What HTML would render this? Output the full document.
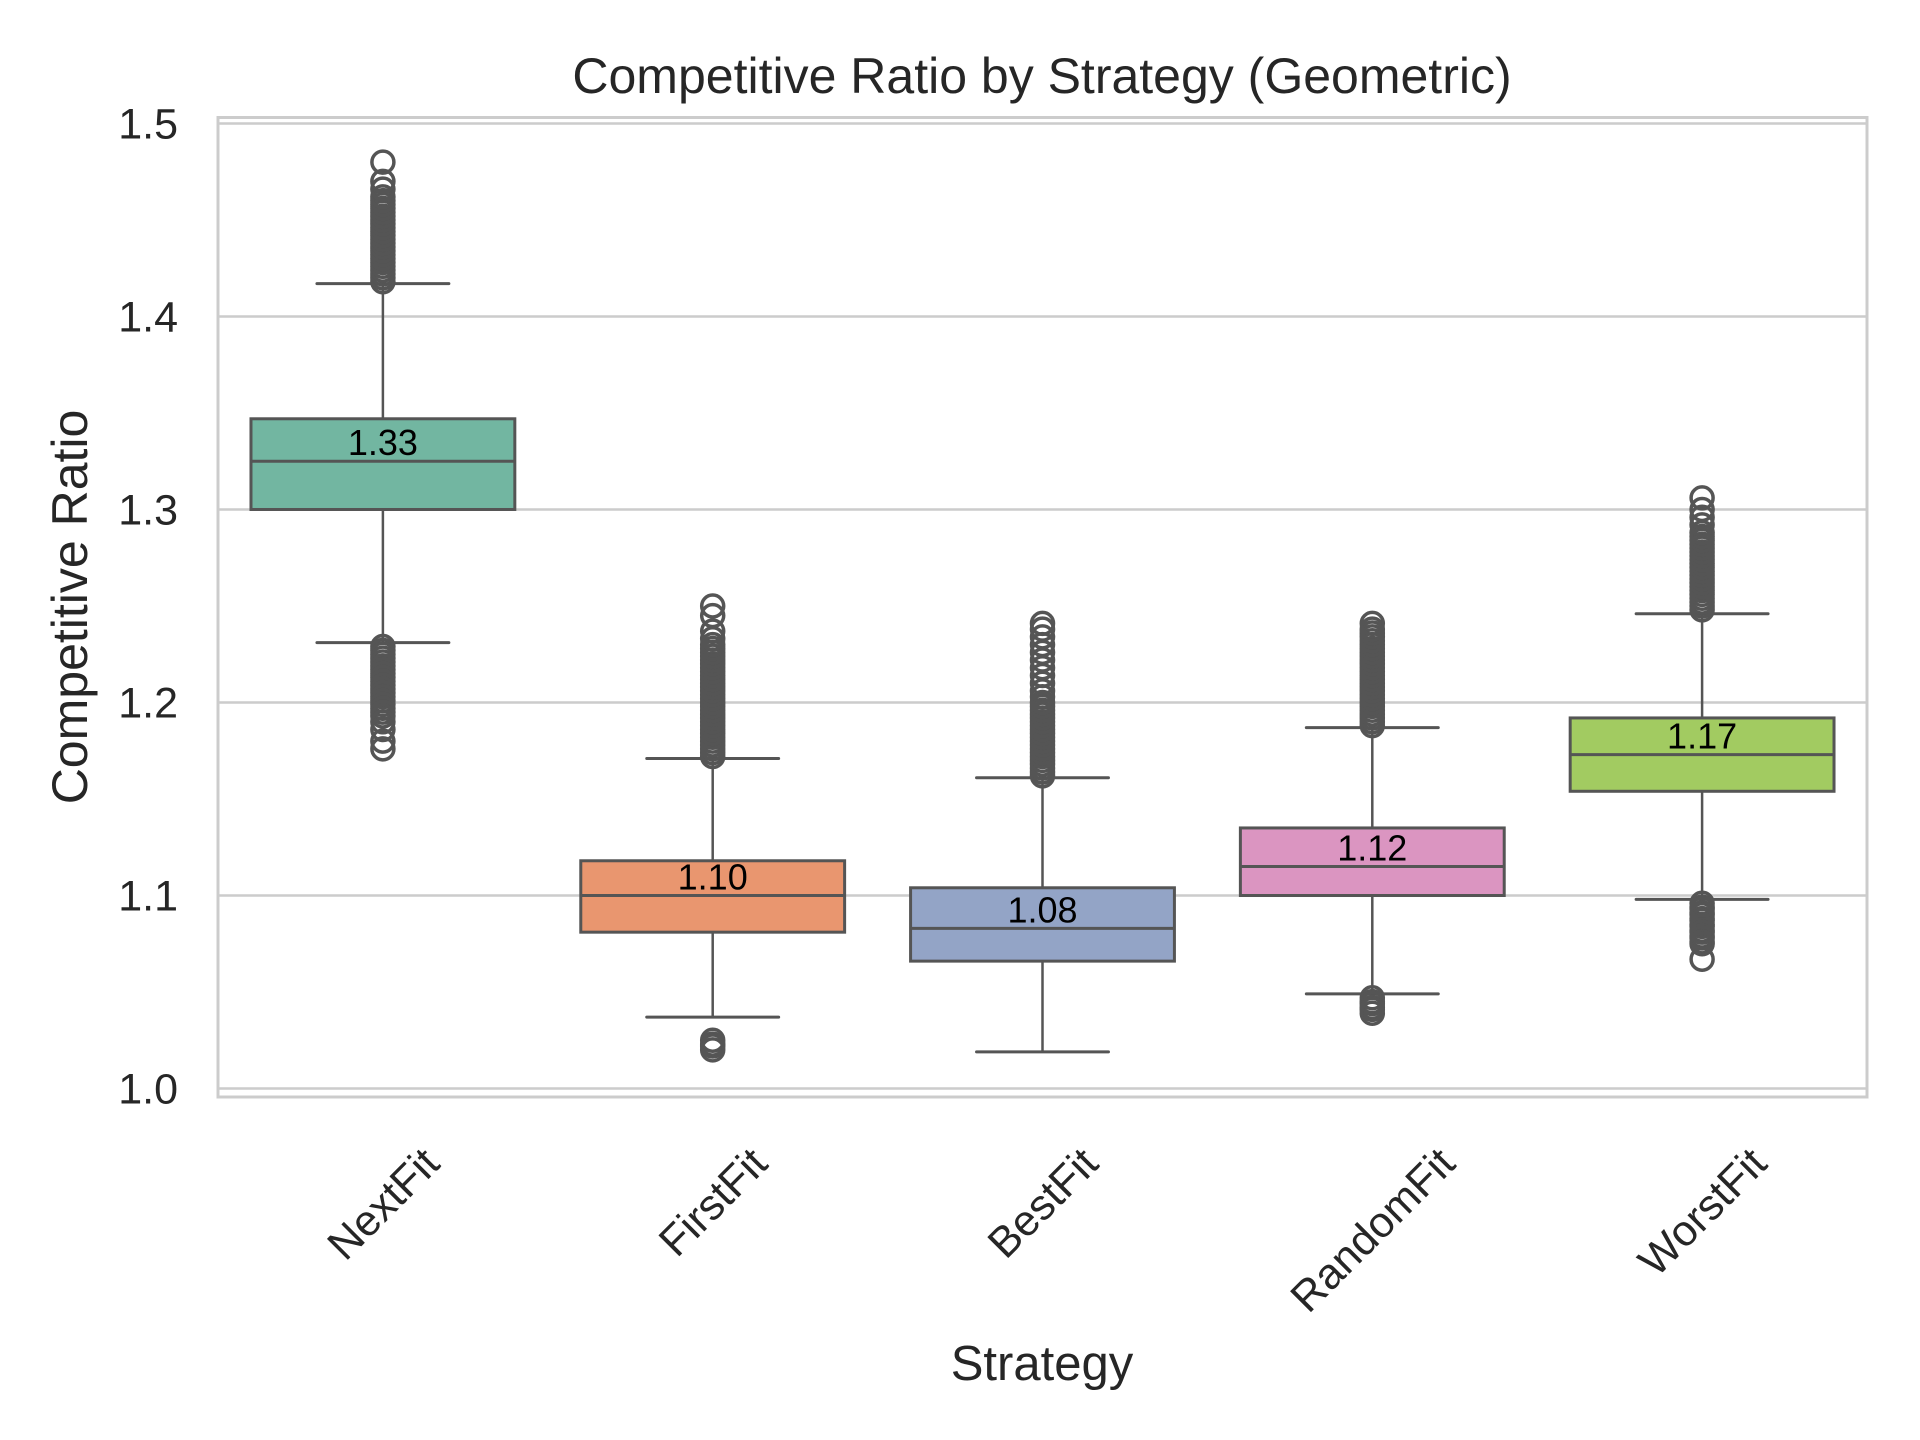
<!DOCTYPE html>
<html><head><meta charset="utf-8"><style>
html,body{margin:0;padding:0;background:#fff;}
svg{display:block;font-family:"Liberation Sans",Arial,sans-serif;}
</style></head><body>
<svg id="chart" width="1920" height="1440" viewBox="0 0 1920 1440" xmlns="http://www.w3.org/2000/svg">
<rect width="1920" height="1440" fill="#fff"/>
<text x="1042" y="93" text-anchor="middle" font-size="50" fill="#262626">Competitive Ratio by Strategy (Geometric)</text>
<g id="grid"></g><g id="boxes"></g><g id="labels"></g>
<rect x="218" y="117.5" width="1649" height="979.5" fill="none" stroke="#cccccc" stroke-width="3"/>
<text transform="translate(87,607) rotate(-90)" text-anchor="middle" font-size="50" fill="#262626">Competitive Ratio</text>
<text x="1042" y="1380" text-anchor="middle" font-size="49" fill="#262626">Strategy</text>
</svg>
<script>
const categories=["NextFit","FirstFit","BestFit","RandomFit","WorstFit"];
const q1=[1.300,1.081,1.066,1.100,1.154];
const q3=[1.347,1.118,1.104,1.135,1.192];
const medians=[1.325,1.100,1.083,1.115,1.173];
const whiskLo=[1.231,1.037,1.019,1.049,1.098];
const whiskHi=[1.417,1.171,1.161,1.187,1.246];
const medianLabels=["1.33","1.10","1.08","1.12","1.17"];
const outliersHigh=[
[1.418,1.42,1.422,1.424,1.426,1.428,1.43,1.432,1.434,1.436,1.438,1.44,1.442,1.444,1.446,1.448,1.45,1.452,1.454,1.456,1.458,1.46,1.462,1.466,1.47,1.48],
[1.172,1.174,1.176,1.178,1.18,1.182,1.184,1.186,1.188,1.19,1.192,1.194,1.196,1.198,1.2,1.202,1.204,1.206,1.208,1.21,1.212,1.214,1.216,1.218,1.22,1.222,1.224,1.226,1.228,1.23,1.233,1.237,1.245,1.25],
[1.162,1.164,1.166,1.168,1.17,1.172,1.174,1.176,1.178,1.18,1.182,1.184,1.186,1.188,1.19,1.192,1.194,1.196,1.198,1.2,1.203,1.206,1.21,1.214,1.218,1.222,1.226,1.23,1.234,1.238,1.241],
[1.188,1.19,1.192,1.194,1.196,1.198,1.2,1.202,1.204,1.206,1.208,1.21,1.212,1.214,1.216,1.218,1.22,1.222,1.224,1.226,1.228,1.23,1.232,1.234,1.236,1.238,1.241],
[1.248,1.25,1.252,1.254,1.256,1.258,1.26,1.262,1.264,1.266,1.268,1.27,1.272,1.274,1.276,1.278,1.28,1.282,1.284,1.286,1.288,1.292,1.296,1.3,1.306]];
const outliersLow=[
[1.229,1.227,1.225,1.223,1.221,1.219,1.217,1.215,1.213,1.211,1.209,1.207,1.205,1.203,1.201,1.199,1.197,1.195,1.193,1.19,1.186,1.18,1.176],
[1.025,1.023,1.022,1.02],
[],
[1.047,1.045,1.044,1.042,1.041,1.039],
[1.096,1.094,1.093,1.091,1.09,1.088,1.087,1.085,1.084,1.082,1.081,1.079,1.078,1.076,1.075,1.067]];
const yTicks=[1.0,1.1,1.2,1.3,1.4,1.5];
const yTickLabels=["1.0","1.1","1.2","1.3","1.4","1.5"];

const NS="http://www.w3.org/2000/svg";
const X0=218,X1=1867,Y0=117.5,Y1=1097,yMin=0.9956,yMax=1.5031;
const y=v=>Y1-(v-yMin)/(yMax-yMin)*(Y1-Y0);
const band=(X1-X0)/categories.length;
const x=i=>X0+band*(i+0.5);
const colors=["#72b6a1","#e9966f","#93a4c6","#db95c1","#a2cb61"];
function mk(tag,attrs,parent){const e=document.createElementNS(NS,tag);for(const k in attrs)e.setAttribute(k,attrs[k]);parent.appendChild(e);return e;}
const grid=document.getElementById('grid'),boxes=document.getElementById('boxes'),labels=document.getElementById('labels');
yTicks.forEach((t,i)=>{
  const l=mk('line',{x1:X0,x2:X1,y1:y(t),y2:y(t),stroke:'#cccccc','stroke-width':2.5},grid);
  
  
  const tx=mk('text',{x:178,y:y(t)+15,'text-anchor':'end','font-size':43,fill:'#262626'},labels);
  tx.textContent=yTickLabels[i];
  
  
});
const bw=band*0.8,cw=bw/2;
categories.forEach((c,i)=>{
  const cx=x(i);
  const g=mk('g',{},boxes);
  
  
  mk('line',{x1:cx,x2:cx,y1:y(q1[i]),y2:y(whiskLo[i]),stroke:'#555','stroke-width':2.5},g);
  mk('line',{x1:cx,x2:cx,y1:y(q3[i]),y2:y(whiskHi[i]),stroke:'#555','stroke-width':2.5},g);
  mk('line',{x1:cx-cw/2,x2:cx+cw/2,y1:y(whiskLo[i]),y2:y(whiskLo[i]),stroke:'#555','stroke-width':3,'stroke-linecap':'round'},g);
  mk('line',{x1:cx-cw/2,x2:cx+cw/2,y1:y(whiskHi[i]),y2:y(whiskHi[i]),stroke:'#555','stroke-width':3,'stroke-linecap':'round'},g);
  mk('rect',{x:cx-bw/2,y:y(q3[i]),width:bw,height:y(q1[i])-y(q3[i]),fill:colors[i],stroke:'#555','stroke-width':3},g);
  mk('line',{x1:cx-bw/2,x2:cx+bw/2,y1:y(medians[i]),y2:y(medians[i]),stroke:'#555','stroke-width':3},g);
  outliersHigh[i].concat(outliersLow[i]).forEach(v=>{
    const o=mk('circle',{cx:cx,cy:y(v),r:11,fill:'none',stroke:'#555','stroke-width':3.5},g);
    
    
  });
  const ml=mk('text',{x:cx,y:y(medians[i])-6,'text-anchor':'middle','font-size':36,fill:'#000'},g);
  ml.textContent=medianLabels[i];
  
  
  const xl=mk('text',{'text-anchor':'middle','font-size':43,fill:'#262626'},labels);
  xl.textContent=c;
  
  
  const L=xl.getComputedTextLength(),h=32;
  const cy=1144+(L+h)*0.7071/2;
  xl.setAttribute('transform','translate('+cx+','+cy+') rotate(-45)');
  xl.setAttribute('dy','15');
});
</script>
</body></html>
